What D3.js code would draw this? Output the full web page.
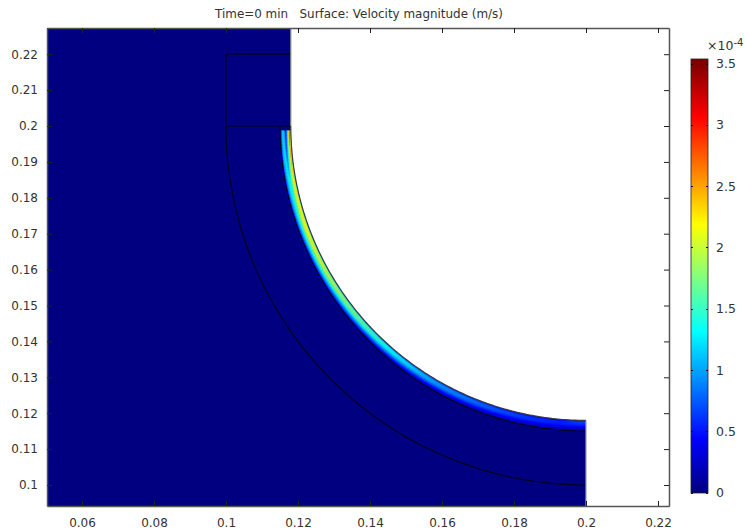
<!DOCTYPE html>
<html lang="en">
<head>
    <meta charset="UTF-8">
    <title>Velocity magnitude</title>
    <script src="https://d3js.org/d3.v7.min.js"></script>
    <style>
        html, body { margin: 0; padding: 0; background: #fff; }
        svg { display: block; }
        text { font-family: 'DejaVu Sans', sans-serif; fill: #333; }
        .axis text { font-size: 12px; }
        .bar-axis text { font-size: 12.5px; }
        .axis path { stroke: #555; stroke-width: 1.5px; }
        .axis line { stroke: #222; }
    </style>
</head>
<body>
<svg id="chart" width="746" height="531"></svg>
<script>
    const xTicks = [0.06, 0.08, 0.1, 0.12, 0.14, 0.16, 0.18, 0.2, 0.22];
    const yTicks = [0.1, 0.11, 0.12, 0.13, 0.14, 0.15, 0.16, 0.17, 0.18, 0.19, 0.2, 0.21, 0.22];
    const colorTicks = [0, 0.5, 1, 1.5, 2, 2.5, 3, 3.5];

    // arc position in degrees: 0 is the top of the wall, 90 the bottom end
    const angleStations = [1.5, 5, 10, 20, 30, 40, 48, 60, 75, 85, 90];
    // distance from the wall in mm
    const depthStations = [0, 0.5, 1, 1.5, 2, 2.5, 3, 3.5];
    // velocity (x 1e-4 m/s), one row per angle station
    const velocityField = [
        [1.5, 2.9, 1.4, 0.4, 1.2, 1.1, 0.3, 0],
        [1.3, 2.6, 1.5, 0.7, 1.3, 1.1, 0.4, 0],
        [1.1, 2.3, 1.9, 1.3, 1.3, 1.0, 0.45, 0],
        [1.0, 2.1, 2.2, 1.7, 1.3, 0.9, 0.4, 0],
        [0.9, 1.9, 2.0, 1.6, 1.2, 0.8, 0.35, 0],
        [0.8, 1.65, 1.75, 1.4, 1.0, 0.65, 0.3, 0],
        [0.7, 1.3, 1.4, 1.15, 0.85, 0.5, 0.2, 0],
        [0.5, 0.9, 1.0, 0.85, 0.6, 0.35, 0.15, 0],
        [0.35, 0.65, 0.7, 0.6, 0.45, 0.3, 0.1, 0],
        [0.3, 0.55, 0.55, 0.5, 0.4, 0.25, 0.1, 0],
        [0.4, 0.7, 0.65, 0.55, 0.4, 0.25, 0.1, 0]
    ];

    // jet colour map, as in the colour bar
    const jetStops = [0, 0.4375, 1.3125, 2.1875, 3.0625, 3.5];
    const jetColors = ['#000080', '#0000ff', '#00ffff', '#ffff00', '#ff0000', '#800000'];

    const svg = d3.select('#chart');
    const plotLeft = 47, plotRight = 669, plotTop = 28, plotBottom = 506;

    const x = d3.scaleLinear().domain([0.06, 0.2]).range([82, 586]);
    const y = d3.scaleLinear().domain([0.1, 0.2]).range([485, 126]);
    const color = d3.scaleLinear().domain(jetStops).range(jetColors).clamp(true);

    const xMin = x.invert(plotLeft), xMax = x.invert(plotRight);
    const yMin = y.invert(plotBottom), yMax = y.invert(plotTop);
    x.domain([xMin, xMax]).range([plotLeft, plotRight]);
    y.domain([yMin, yMax]).range([plotBottom, plotTop]);

    // geometry of the model
    const cx = 0.2, cy = 0.2;
    const wallR = 0.082, innerR = 0.085, outerR = 0.1;

    function polar(theta, r) {
        const t = theta * Math.PI / 180;
        return [x(cx - r * Math.cos(t)), y(cy - r * Math.sin(t))];
    }
    const line = d3.line();
    const arcAngles = d3.range(0, 90.5, 0.5);
    function arcPoints(r) { return arcAngles.map(function(a) { return polar(a, r); }); }

    const defs = svg.append('defs');
    defs.append('clipPath').attr('id', 'plot-clip')
        .append('rect').attr('x', plotLeft).attr('y', plotTop)
        .attr('width', plotRight - plotLeft).attr('height', plotBottom - plotTop);
    const domainPts = [[x(xMin), y(yMax)], [x(cx - wallR), y(yMax)]]
        .concat(arcPoints(wallR))
        .concat([[x(cx), y(yMin)], [x(xMin), y(yMin)]]);
    defs.append('clipPath').attr('id', 'domain-clip')
        .append('path').attr('d', line(domainPts) + 'Z');
    defs.append('filter').attr('id', 'soft')
        .append('feGaussianBlur').attr('stdDeviation', 0.6);

    svg.append('text').attr('x', 359).attr('y', 18).attr('text-anchor', 'middle')
        .style('font-size', '11.95px').style('white-space', 'pre')
        .text('Time=0 min   Surface: Velocity magnitude (m/s)');

    // surface
    const plot = svg.append('g').attr('clip-path', 'url(#plot-clip)');
    plot.append('path').attr('d', line(domainPts) + 'Z').attr('fill', '#000080');

    // velocity band along the wall
    const rowAt = depthStations.map(function(d, j) {
        return d3.scaleLinear().domain(angleStations).range(velocityField.map(function(r) { return r[j]; })).clamp(true);
    });
    function valueAt(a, d) {
        const depth = d3.scaleLinear().domain(depthStations).range(rowAt.map(function(s) { return s(a); }));
        return depth(d);
    }
    const cells = [];
    d3.range(0.9, 90, 0.6).forEach(function(a) {
        d3.range(0, 3.5, 0.2).forEach(function(d) { cells.push({a: a, d: d}); });
    });
    const band = plot.append('g').attr('clip-path', 'url(#domain-clip)').append('g').attr('filter', 'url(#soft)');
    band.selectAll('path').data(cells).enter().append('path')
        .attr('d', function(c) {
            const r0 = wallR + c.d / 1000, r1 = wallR + (c.d + 0.2) / 1000;
            return line([polar(c.a, r0), polar(c.a + 0.6, r0), polar(c.a + 0.6, r1), polar(c.a, r1)]) + 'Z';
        })
        .attr('fill', function(c) { return color(valueAt(c.a + 0.3, c.d + 0.1)); })
        .attr('stroke', function(c) { return color(valueAt(c.a + 0.3, c.d + 0.1)); })
        .attr('stroke-width', 0.4);

    // mesh boundaries
    const edges = plot.append('g').attr('fill', 'none').attr('stroke', '#00001e').attr('stroke-width', 1.2);
    edges.append('path').attr('d', line(arcPoints(innerR)));
    edges.append('path').attr('d', line(arcPoints(outerR)));
    edges.append('path').attr('d', line([[x(0.1), y(0.22)], [x(0.1), y(0.2)], [x(cx - wallR), y(0.2)]]));
    edges.append('path').attr('d', line([[x(0.1), y(0.22)], [x(cx - wallR), y(0.22)]]));
    // outer wall
    plot.append('path').attr('d', line(arcPoints(wallR))).attr('fill', 'none').attr('stroke', '#3c3c48').attr('stroke-width', 1.2);
    plot.append('path').attr('d', line([[x(cx - wallR), y(yMax)], [x(cx - wallR), y(0.2)]])).attr('fill', 'none').attr('stroke', '#8a8a90').attr('stroke-width', 1.2);
    plot.append('path').attr('d', line([[x(cx), y(cy - wallR)], [x(cx), y(yMin)]])).attr('fill', 'none').attr('stroke', '#a0a0a8').attr('stroke-width', 1.2);

    // axes, ticks point into the plot
    const tickLen = 5;
    svg.append('g').attr('class', 'axis').attr('transform', 'translate(0,' + plotBottom + ')')
        .call(d3.axisBottom(x).tickValues(xTicks).tickSizeInner(-tickLen).tickSizeOuter(0).tickPadding(12).tickFormat(function(d) { return d; }));
    svg.append('g').attr('class', 'axis').attr('transform', 'translate(' + plotLeft + ',0)')
        .call(d3.axisLeft(y).tickValues(yTicks).tickSizeInner(-tickLen).tickSizeOuter(0).tickPadding(9).tickFormat(function(d) { return d; }));
    svg.append('g').attr('class', 'axis').attr('transform', 'translate(0,' + plotTop + ')')
        .call(d3.axisTop(x).tickValues(xTicks).tickSizeInner(-tickLen).tickSizeOuter(0).tickFormat(''));
    svg.append('g').attr('class', 'axis').attr('transform', 'translate(' + plotRight + ',0)')
        .call(d3.axisRight(y).tickValues(yTicks).tickSizeInner(-tickLen).tickSizeOuter(0).tickFormat(''));

    // colour bar
    const barLeft = 691, barRight = 708, barTop = 59, barBottom = 493;
    const barY = d3.scaleLinear().domain([0, 3.5]).range([492.6, 63.6]);
    const grad = defs.append('linearGradient').attr('id', 'jet')
        .attr('gradientUnits', 'userSpaceOnUse')
        .attr('x1', 0).attr('x2', 0).attr('y1', barY(0)).attr('y2', barY(3.5));
    jetStops.forEach(function(s, i) {
        grad.append('stop').attr('offset', s / 3.5).attr('stop-color', jetColors[i]);
    });
    svg.append('rect').attr('x', barLeft).attr('y', barTop)
        .attr('width', barRight - barLeft).attr('height', barBottom - barTop)
        .attr('fill', 'url(#jet)').attr('stroke', '#222').attr('stroke-width', 0.8);
    const barAxis = svg.append('g').attr('class', 'axis bar-axis').attr('transform', 'translate(' + barRight + ',0)')
        .call(d3.axisRight(barY).tickValues(colorTicks).tickSizeInner(0).tickSizeOuter(0).tickPadding(8).tickFormat(function(d) { return d; }));
    barAxis.select('.domain').remove();
    svg.selectAll('.bar-tick').data(colorTicks).enter().append('path')
        .attr('class', 'bar-tick').attr('stroke', '#111').attr('fill', 'none')
        .attr('d', function(d) {
            const p = Math.round(barY(d)) + 0.5;
            return 'M' + barLeft + ',' + p + 'h2M' + (barRight - 2) + ',' + p + 'h2';
        });
    const mult = svg.append('text').attr('x', 707).attr('y', 50).style('font-size', '12.5px');
    mult.append('tspan').text('\u00d710');
    mult.append('tspan').attr('dy', -4).style('font-size', '10px').text('-4');
</script>
</body>
</html>
